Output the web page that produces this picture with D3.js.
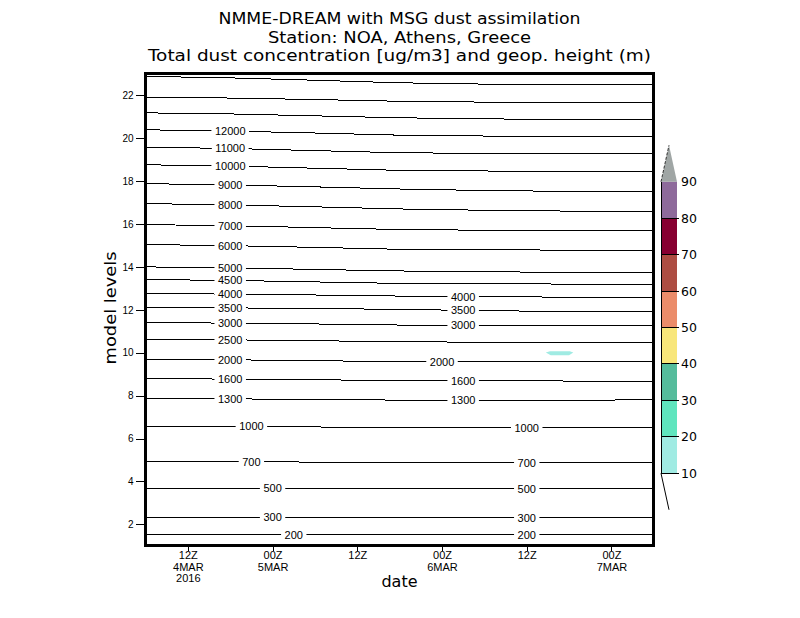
<!DOCTYPE html>
<html>
<head>
<meta charset="utf-8">
<script src="https://cdn.jsdelivr.net/npm/d3@7"></script>
<style>
  body { margin: 0; background: #fff; }
  svg text { font-family: "Liberation Sans", Arial, sans-serif; fill: #000; }
</style>
</head>
<body>
<div id="chart"></div>
<script>
//==============================================================================
//  NMME-DREAM station time/height section, Athens (NOA)
//==============================================================================

// time axis: hours after 06Z 4 MAR 2016
var startTime = Date.UTC(2016, 2, 4, 6);
var endTime = Date.UTC(2016, 2, 7, 6);
var sampleHours = [0, 12, 24, 36, 48, 60, 72];

// geopotential height contours (m) and their model level at each sample hour
var contourHeights = [15000, 14000, 13000, 12000, 11000, 10000, 9000, 8000,
                      7000, 6000, 5000, 4500, 4000, 3500, 3000, 2500, 2000,
                      1600, 1300, 1000, 700, 500, 300, 200];
var contourLevels = [
  [22.88, 22.81, 22.70, 22.58, 22.52, 22.49, 22.48],
  [21.91, 21.87, 21.80, 21.72, 21.68, 21.66, 21.65],
  [21.18, 21.13, 21.04, 20.95, 20.90, 20.87, 20.86],
  [20.39, 20.33, 20.24, 20.14, 20.10, 20.08, 20.07],
  [19.58, 19.52, 19.42, 19.32, 19.29, 19.27, 19.27],
  [18.76, 18.70, 18.60, 18.50, 18.47, 18.45, 18.45],
  [17.88, 17.82, 17.73, 17.63, 17.56, 17.52, 17.51],
  [16.95, 16.89, 16.80, 16.70, 16.64, 16.60, 16.59],
  [15.97, 15.92, 15.83, 15.74, 15.71, 15.69, 15.69],
  [15.04, 14.99, 14.91, 14.82, 14.80, 14.78, 14.78],
  [14.00, 13.96, 13.88, 13.81, 13.77, 13.75, 13.75],
  [13.41, 13.37, 13.30, 13.23, 13.21, 13.20, 13.20],
  [12.76, 12.73, 12.69, 12.64, 12.61, 12.59, 12.58],
  [12.11, 12.09, 12.06, 12.02, 11.96, 11.92, 11.91],
  [11.40, 11.38, 11.34, 11.29, 11.28, 11.27, 11.27],
  [10.62, 10.60, 10.56, 10.51, 10.49, 10.48, 10.48],
  [9.69, 9.67, 9.63, 9.58, 9.59, 9.60, 9.60],
  [8.79, 8.77, 8.74, 8.70, 8.69, 8.68, 8.68],
  [7.86, 7.85, 7.82, 7.79, 7.79, 7.79, 7.80],
  [6.58, 6.57, 6.54, 6.50, 6.50, 6.50, 6.50],
  [4.95, 4.93, 4.90, 4.86, 4.86, 4.86, 4.86],
  [3.69, 3.68, 3.67, 3.65, 3.65, 3.65, 3.65],
  [2.34, 2.33, 2.32, 2.30, 2.30, 2.30, 2.30],
  [1.53, 1.52, 1.52, 1.51, 1.51, 1.51, 1.51]
];
// hours at which each contour carries a label
var contourLabelHours = [
  [], [], [], [12], [12], [12], [12], [12], [12], [12], [12], [12],
  [12, 45], [12, 45], [12, 45], [12], [12, 42], [12, 45], [12, 45],
  [15, 54], [15, 54], [18, 54], [18, 54], [21, 54]
];

// dust concentration shading (ug/m3)
var dustBreaks = [10, 20, 30, 40, 50, 60, 70, 80, 90];
var dustColors = ["#a0ebe3", "#5fe5be", "#55bc9c", "#f8e67a", "#eb8c6a",
                  "#ad4d42", "#870031", "#8e6a9b"];
var dustOverColor = "#a0a6a5";
// the only area above 10 ug/m3: outline as (hour, model level)
var dustPatchHours = [56.7, 57.3, 60.1, 60.6, 60.0, 57.4];
var dustPatchLevels = [10.01, 10.07, 10.07, 10.01, 9.88, 9.88];

// axes
var levelTicks = [2, 4, 6, 8, 10, 12, 14, 16, 18, 20, 22];
var timeTickHours = [6, 18, 30, 42, 54, 66];

var titleLines = ["NMME-DREAM with MSG dust assimilation",
                  "Station: NOA, Athens, Greece",
                  "Total dust concentration [ug/m3] and geop. height (m)"];

//==============================================================================
//  LAYOUT
//==============================================================================

var W = 800, H = 618;
var plot = { left: 145.5, right: 653.8, top: 73.8, bottom: 545.8 };
var bar = { left: 661, right: 677, tip: 669, labelX: 681, tickEnd: 679 };

function hourToDate(h) { return new Date(startTime + h * 3600e3); }

var x = d3.scaleUtc()
          .domain([new Date(startTime), new Date(endTime)])
          .range([plot.left, plot.right]);
var y = d3.scaleLinear().domain([1, 23]).range([plot.bottom, plot.top]);
var yBar = d3.scaleLinear().domain([10, 90]).range([473.3, 181.7]);

var svg = d3.select("#chart").append("svg")
            .attr("width", W).attr("height", H);

svg.append("clipPath").attr("id", "plotClip")
   .append("rect")
   .attr("x", plot.left).attr("y", plot.top)
   .attr("width", plot.right - plot.left)
   .attr("height", plot.bottom - plot.top);

var inner = svg.append("g").attr("clip-path", "url(#plotClip)");

//==============================================================================
//  DUST SHADING
//==============================================================================

inner.append("polygon")
     .attr("points", dustPatchHours.map(function(h, i) {
       return x(hourToDate(h)) + "," + y(dustPatchLevels[i]);
     }).join(" "))
     .attr("fill", dustColors[0]);

//==============================================================================
//  HEIGHT CONTOURS
//==============================================================================

var line = d3.line()
             .x(function(d) { return x(hourToDate(d[0])); })
             .y(function(d) { return y(d[1]); });

contourLevels.forEach(function(levels) {
  inner.append("path")
       .attr("d", line(sampleHours.map(function(h, i) { return [h, levels[i]]; })))
       .attr("fill", "none")
       .attr("stroke", "#000")
       .attr("stroke-width", 1)
       .attr("shape-rendering", "crispEdges");
});

var labels = inner.append("g");
contourLabelHours.forEach(function(hrs, c) {
  var along = d3.scaleLinear().domain(sampleHours).range(contourLevels[c]);
  hrs.forEach(function(h) {
    var g = labels.append("g")
                  .attr("transform", "translate(" + x(hourToDate(h)) + "," +
                        y(along(h)) + ")");
    var gap = g.append("rect").attr("fill", "#fff");
    var t = g.append("text")
             .attr("text-anchor", "middle")
             .attr("dy", "0.36em")
             .style("font-size", "11px")
             .text(contourHeights[c]);
    var w = t.node().getComputedTextLength();
    gap.attr("x", -w / 2 - 3.5).attr("y", -5)
       .attr("width", w + 7).attr("height", 10);
  });
});

//==============================================================================
//  AXES
//==============================================================================

var yAxis = d3.axisLeft(y).tickValues(levelTicks).tickSize(10).tickPadding(2);
var yAxisG = svg.append("g")
                .attr("transform", "translate(" + plot.left + ",0)")
                .call(yAxis);
yAxisG.select(".domain").remove();
yAxisG.selectAll("line").attr("shape-rendering", "crispEdges");
yAxisG.selectAll("text")
      .style("font-family", "'Liberation Sans Narrow', 'Liberation Sans', sans-serif")
      .style("font-size", "10px");

var fmtHour = d3.utcFormat("%HZ"),
    fmtDay = d3.utcFormat("%-d%b"),
    fmtYear = d3.utcFormat("%Y");

var xAxis = d3.axisBottom(x)
              .tickValues(timeTickHours.map(hourToDate))
              .tickSize(5)
              .tickFormat("");
var xAxisG = svg.append("g")
                .attr("transform", "translate(0," + plot.bottom + ")")
                .call(xAxis);
xAxisG.select(".domain").remove();
xAxisG.selectAll("line").attr("shape-rendering", "crispEdges");
xAxisG.selectAll(".tick").each(function(d, i) {
  var t = d3.select(this).append("text")
            .attr("text-anchor", "middle")
            .style("font-family", "'Liberation Sans Narrow', 'Liberation Sans', sans-serif")
            .style("font-size", "11px");
  t.append("tspan").attr("x", 0).attr("y", 13.5).text(fmtHour(d));
  if (d.getUTCHours() === 0 || i === 0)
    t.append("tspan").attr("x", 0).attr("y", 25).text(fmtDay(d).toUpperCase());
  if (i === 0)
    t.append("tspan").attr("x", 0).attr("y", 36.5).text(fmtYear(d));
});

// frame
svg.append("rect")
   .attr("x", plot.left).attr("y", plot.top)
   .attr("width", plot.right - plot.left)
   .attr("height", plot.bottom - plot.top)
   .attr("fill", "none").attr("stroke", "#000").attr("stroke-width", 3)
   .attr("shape-rendering", "crispEdges");

// axis titles
svg.append("text")
   .attr("transform", "translate(116," + 308 + ") rotate(-90)")
   .attr("text-anchor", "middle")
   .attr("textLength", 113).attr("lengthAdjust", "spacingAndGlyphs")
   .style("font-family", "'DejaVu Sans', sans-serif")
   .style("font-size", "16px")
   .text("model levels");

svg.append("text")
   .attr("x", 399.5).attr("y", 587)
   .attr("text-anchor", "middle")
   .style("font-family", "'DejaVu Sans', sans-serif")
   .style("font-size", "16px")
   .text("date");

// title
var titleY = [24, 42.5, 61], titleW = [362, 263, 503];
titleLines.forEach(function(s, i) {
  svg.append("text")
     .attr("x", 399.5).attr("y", titleY[i])
     .attr("text-anchor", "middle")
     .attr("textLength", titleW[i]).attr("lengthAdjust", "spacingAndGlyphs")
     .style("font-family", "'DejaVu Sans', sans-serif")
     .style("font-size", "16px")
     .text(s);
});

//==============================================================================
//  COLOUR BAR
//==============================================================================

var cb = svg.append("g");
var step = yBar(dustBreaks[0]) - yBar(dustBreaks[1]);

cb.selectAll("rect.box")
  .data(dustColors)
  .enter().append("rect")
  .attr("class", "box")
  .attr("x", bar.left)
  .attr("y", function(d, i) { return yBar(dustBreaks[i + 1]); })
  .attr("width", bar.right - bar.left)
  .attr("height", function(d, i) {
    return yBar(dustBreaks[i]) - yBar(dustBreaks[i + 1]);
  })
  .attr("fill", function(d) { return d; });

var top90 = yBar(dustBreaks[dustBreaks.length - 1]);
cb.append("polygon")
  .attr("points", [[bar.left, top90], [bar.right, top90],
                   [bar.tip, top90 - step]].join(" "))
  .attr("fill", dustOverColor);
cb.append("line")
  .attr("x1", bar.left).attr("y1", top90)
  .attr("x2", bar.tip).attr("y2", top90 - step)
  .attr("stroke", "#333").attr("stroke-width", 1)
  .attr("stroke-dasharray", "3,1.5");

var bot10 = yBar(dustBreaks[0]);
cb.append("line")
  .attr("x1", bar.left).attr("y1", bot10)
  .attr("x2", bar.tip).attr("y2", bot10 + step)
  .attr("stroke", "#000").attr("stroke-width", 1);

cb.append("line")
  .attr("x1", bar.left).attr("y1", top90)
  .attr("x2", bar.left).attr("y2", bot10)
  .attr("stroke", "#000").attr("stroke-width", 1)
  .attr("shape-rendering", "crispEdges");

cb.selectAll("line.brk")
  .data(dustBreaks.slice(0, -1))
  .enter().append("line")
  .attr("class", "brk")
  .attr("x1", bar.left).attr("x2", bar.tickEnd)
  .attr("y1", function(d) { return yBar(d); })
  .attr("y2", function(d) { return yBar(d); })
  .attr("stroke", "#000").attr("stroke-width", 1)
  .attr("shape-rendering", "crispEdges");

cb.selectAll("text")
  .data(dustBreaks)
  .enter().append("text")
  .attr("x", bar.labelX)
  .attr("y", function(d) { return yBar(d); })
  .attr("dy", "0.36em")
  .style("font-family", "'DejaVu Sans', sans-serif")
  .style("font-size", "12.5px")
  .text(function(d) { return d; });
</script>
</body>
</html>
